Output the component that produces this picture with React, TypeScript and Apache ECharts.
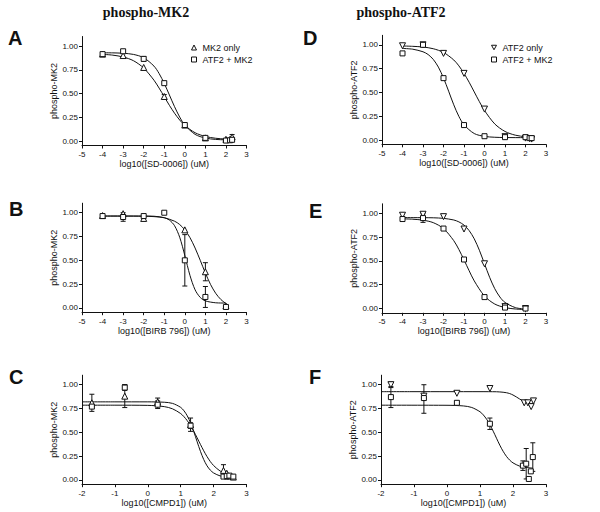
import React, { useEffect, useRef } from "react";
import * as echarts from "echarts";

const FONT = '"Liberation Sans", Arial, sans-serif';
const SERIF = '"Liberation Serif", "Times New Roman", serif';

const Y_TICKS = [0, 0.25, 0.5, 0.75, 1];

// ---------- Panel A (SD-0006, phospho-MK2) ----------
const A_X = [-4, -3, -2, -1, 0, 1, 2, 2.2, 2.3];
const A_MK2_ONLY = [0.915, 0.9, 0.775, 0.47, 0.17, 0.035, 0.02, 0.02, 0.045];
const A_ATF2_MK2 = [0.915, 0.945, 0.865, 0.61, 0.17, 0.035, 0.007, 0.01, 0.015];
const A_CURVE_X = [-4, -3.5, -3, -2.5, -2, -1.5, -1.25, -1, -0.75, -0.5, -0.25, 0, 0.5, 1, 1.5, 2, 2.3];
const A_CURVE_MK2_ONLY = [0.913, 0.904, 0.885, 0.846, 0.769, 0.641, 0.558, 0.468, 0.377, 0.294, 0.223, 0.166, 0.089, 0.05, 0.031, 0.022, 0.019];
const A_CURVE_ATF2_MK2 = [0.929, 0.928, 0.924, 0.912, 0.877, 0.789, 0.711, 0.607, 0.486, 0.363, 0.254, 0.17, 0.072, 0.033, 0.019, 0.014, 0.013];
const A_ERR_MK2_ONLY = [[-1, 0.47, 0.02], [2.3, 0.045, 0.025]];
const A_ERR_ATF2_MK2 = [[-2, 0.865, 0.025]];

// ---------- Panel D (SD-0006, phospho-ATF2) ----------
const D_X = [-4, -3, -2, -1, 0, 1, 2, 2.2, 2.3];
const D_ATF2_ONLY = [0.99, 1.0, 0.91, 0.7, 0.325, 0.035, 0.02, 0.015, 0.01];
const D_ATF2_MK2 = [0.91, 1.0, 0.65, 0.157, 0.04, 0.03, 0.03, 0.02, 0.02];
const D_CURVE_X_ATF2_ONLY = [-4, -3.5, -3, -2.5, -2, -1.5, -1.25, -1, -0.75, -0.5, -0.25, 0, 0.5, 1, 1.5, 2, 2.3];
const D_CURVE_ATF2_ONLY = [0.988, 0.984, 0.977, 0.959, 0.92, 0.841, 0.779, 0.7, 0.607, 0.505, 0.403, 0.31, 0.169, 0.09, 0.051, 0.034, 0.028];
const D_CURVE_X_ATF2_MK2 = [-4, -3.5, -3, -2.75, -2.5, -2.25, -2, -1.75, -1.5, -1.25, -1, -0.5, 0, 0.5, 1, 2, 2.3];
const D_CURVE_ATF2_MK2 = [0.962, 0.954, 0.927, 0.898, 0.847, 0.766, 0.652, 0.513, 0.37, 0.248, 0.16, 0.068, 0.038, 0.029, 0.026, 0.025, 0.025];

// ---------- Panel B (BIRB 796, phospho-MK2) ----------
const B_X_MK2_ONLY = [-4, -3, -2, 0, 1, 2];
const B_MK2_ONLY = [0.97, 0.99, 0.94, 0.82, 0.38, 0.02];
const B_X_ATF2_MK2 = [-4, -3, -2, -1, 0, 1, 2];
const B_ATF2_MK2 = [0.965, 0.955, 0.965, 1.0, 0.5, 0.115, 0.01];
const B_CURVE_X_MK2_ONLY = [-4, -3, -2, -1.5, -1, -0.5, -0.25, 0, 0.25, 0.5, 0.75, 1, 1.25, 1.5, 1.75, 2];
const B_CURVE_MK2_ONLY = [0.965, 0.965, 0.963, 0.959, 0.947, 0.911, 0.876, 0.82, 0.739, 0.629, 0.5, 0.366, 0.247, 0.154, 0.089, 0.046];
const B_CURVE_X_ATF2_MK2 = [-4, -3, -2, -1.5, -1, -0.75, -0.5, -0.25, 0, 0.25, 0.5, 0.75, 1, 1.5, 2];
const B_CURVE_ATF2_MK2 = [0.965, 0.965, 0.965, 0.963, 0.948, 0.923, 0.864, 0.743, 0.551, 0.342, 0.19, 0.11, 0.074, 0.054, 0.051];
const B_ERR_MK2_ONLY = [[1, 0.38, 0.095]];
const B_ERR_ATF2_MK2 = [[-3, 0.955, 0.045], [0, 0.5, 0.27], [1, 0.115, 0.11]];

// ---------- Panel E (BIRB 796, phospho-ATF2) ----------
const E_X = [-4, -3, -2, -1, 0, 1, 2];
const E_ATF2_ONLY = [0.98, 0.99, 0.965, 0.835, 0.47, 0.02, 0.0];
const E_ATF2_MK2 = [0.94, 0.95, 0.84, 0.515, 0.12, 0.01, 0.0];
const E_CURVE_X_ATF2_ONLY = [-4, -3, -2.5, -2, -1.5, -1.25, -1, -0.75, -0.5, -0.25, 0, 0.25, 0.5, 0.75, 1, 1.5, 2];
const E_CURVE_ATF2_ONLY = [0.955, 0.954, 0.953, 0.947, 0.93, 0.91, 0.876, 0.819, 0.732, 0.612, 0.47, 0.328, 0.208, 0.121, 0.064, 0.01, -0.007];
const E_CURVE_X_ATF2_MK2 = [-4, -3.5, -3, -2.5, -2, -1.5, -1.25, -1, -0.75, -0.5, 0, 0.5, 1, 1.5, 2];
const E_CURVE_ATF2_MK2 = [0.942, 0.938, 0.928, 0.902, 0.84, 0.713, 0.62, 0.511, 0.397, 0.29, 0.131, 0.047, 0.01, -0.005, -0.011];
const E_ERR_ATF2_ONLY = [[-4, 0.98, 0.02]];
const E_ERR_ATF2_MK2 = [[-3, 0.95, 0.045], [-2, 0.84, 0.015]];

// ---------- Panel C (CMPD1, phospho-MK2) ----------
const C_X = [-1.7, -0.7, 0.3, 1.3, 2.3, 2.4, 2.48, 2.6];
const C_MK2_ONLY = [0.81, 0.88, 0.82, 0.58, 0.1, 0.07, 0.04, 0.03];
const C_ATF2_MK2 = [0.77, 0.97, 0.79, 0.57, 0.035, 0.04, 0.045, 0.035];
const C_CURVE_X = [-2, -1, 0, 0.5, 0.75, 1, 1.1, 1.2, 1.3, 1.4, 1.5, 1.6, 1.7, 1.8, 1.9, 2, 2.2, 2.4, 2.6];
const C_CURVE_MK2_ONLY = [0.82, 0.82, 0.82, 0.816, 0.804, 0.762, 0.726, 0.673, 0.599, 0.505, 0.401, 0.3, 0.214, 0.148, 0.103, 0.073, 0.042, 0.031, 0.027];
const C_CURVE_ATF2_MK2 = [0.785, 0.785, 0.783, 0.77, 0.747, 0.697, 0.664, 0.622, 0.57, 0.509, 0.442, 0.373, 0.306, 0.245, 0.193, 0.151, 0.093, 0.062, 0.045];
const C_ERR_MK2_ONLY = [[-1.7, 0.81, 0.09], [-0.7, 0.88, 0.12], [0.3, 0.82, 0.04], [1.3, 0.58, 0.07], [2.3, 0.1, 0.06]];
const C_ERR_ATF2_MK2 = [[-0.7, 0.97, 0.03], [0.3, 0.79, 0.04], [1.3, 0.57, 0.03], [2.4, 0.04, 0.03]];

// ---------- Panel F (CMPD1, phospho-ATF2) ----------
const F_X_ATF2_ONLY = [-1.7, -0.7, 0.3, 1.3, 2.34, 2.45, 2.55, 2.62];
const F_ATF2_ONLY = [1.0, 0.88, 0.91, 0.96, 0.81, 0.81, 0.77, 0.83];
const F_X_ATF2_MK2 = [-1.7, -0.7, 0.3, 1.3, 2.3, 2.4, 2.48, 2.54, 2.6];
const F_ATF2_MK2 = [0.87, 0.86, 0.81, 0.59, 0.15, 0.17, 0.01, 0.09, 0.24];
const F_CURVE_X_ATF2_ONLY = [-2, -1, 0, 1, 1.5, 1.7, 1.8, 1.9, 2, 2.1, 2.2, 2.3, 2.4, 2.5, 2.6];
const F_CURVE_ATF2_ONLY = [0.927, 0.927, 0.927, 0.927, 0.926, 0.921, 0.916, 0.907, 0.892, 0.872, 0.85, 0.83, 0.815, 0.806, 0.801];
const F_CURVE_X_ATF2_MK2 = [-2, 0, 0.5, 0.75, 1, 1.1, 1.2, 1.3, 1.4, 1.5, 1.6, 1.7, 1.8, 1.9, 2, 2.2, 2.4, 2.6];
const F_CURVE_ATF2_MK2 = [0.785, 0.784, 0.777, 0.761, 0.716, 0.683, 0.638, 0.58, 0.512, 0.438, 0.365, 0.301, 0.248, 0.208, 0.179, 0.145, 0.131, 0.124];
const F_ERR_ATF2_ONLY = [[-1.7, 1.0, 0.03], [-0.7, 0.85, 0.15]];
const F_ERR_ATF2_MK2 = [[-1.7, 0.87, 0.11], [0.3, 0.81, 0.02], [1.3, 0.59, 0.06], [2.3, 0.15, 0.05], [2.4, 0.17, 0.16], [2.6, 0.24, 0.15]];

// ---------- Labels ----------
const COLUMN_TITLES = ["phospho-MK2", "phospho-ATF2"];
const PANEL_LETTERS = ["A", "D", "B", "E", "C", "F"];
const Y_NAMES = ["phospho-MK2", "phospho-ATF2", "phospho-MK2", "phospho-ATF2", "phospho-MK2", "phospho-ATF2"];
const X_NAMES = [
  "log10([SD-0006]) (uM)",
  "log10([SD-0006]) (uM)",
  "log10([BIRB 796]) (uM)",
  "log10([BIRB 796]) (uM)",
  "log10([CMPD1]) (uM)",
  "log10([CMPD1]) (uM)",
];
const X_MIN = [-5, -5, -5, -5, -2, -2];

// layout (grid order: A, D, B, E, C, F)
const GRIDS = [
  { left: 82, top: 36.5, width: 164.5, height: 109 },
  { left: 382, top: 35.3, width: 164, height: 109 },
  { left: 82, top: 203.2, width: 164.5, height: 109 },
  { left: 382, top: 203.8, width: 164, height: 109 },
  { left: 82, top: 375.2, width: 164.5, height: 109 },
  { left: 381, top: 375.2, width: 165, height: 109 },
];
const LETTER_POS = [
  [8, 37.5],
  [303, 37.5],
  [9, 209],
  [309, 211],
  [9, 377],
  [309, 377],
];

const DOWN_TRI = "path://M0,0L10,0L5,9Z";
const UP_TRI = "triangle";
const SQUARE = "rect";
const MARKER_STYLE = { color: "#fff", borderColor: "#111", borderWidth: 1, opacity: 1 };

const zip = (xs: number[], ys: number[]) => xs.map((x, i) => [x, ys[i]]);

function scatter(name: string, xs: number[], ys: number[], symbol: string, size: number, gi: number) {
  return {
    type: "scatter",
    name,
    xAxisIndex: gi,
    yAxisIndex: gi,
    data: zip(xs, ys),
    symbol,
    symbolSize: size,
    itemStyle: MARKER_STYLE,
    z: 5,
    silent: true,
  };
}

function curve(xs: number[], ys: number[], gi: number) {
  return {
    type: "line",
    xAxisIndex: gi,
    yAxisIndex: gi,
    data: zip(xs, ys),
    smooth: 0.3,
    symbol: "none",
    showSymbol: false,
    lineStyle: { color: "#111", width: 1 },
    z: 2,
    silent: true,
  };
}

function errorBars(rows: number[][], gi: number) {
  return {
    type: "custom",
    xAxisIndex: gi,
    yAxisIndex: gi,
    data: rows,
    encode: { x: 0, y: 1 },
    z: 3,
    silent: true,
    renderItem: (params: any, api: any) => {
      const x = api.value(0);
      const y = api.value(1);
      const e = api.value(2);
      const hi = api.coord([x, y + e]);
      const lo = api.coord([x, y - e]);
      const w = 2.5;
      const st = { stroke: "#111", lineWidth: 1 };
      return {
        type: "group",
        children: [
          { type: "line", shape: { x1: hi[0], y1: hi[1], x2: lo[0], y2: lo[1] }, style: st },
          { type: "line", shape: { x1: hi[0] - w, y1: hi[1], x2: hi[0] + w, y2: hi[1] }, style: st },
          { type: "line", shape: { x1: lo[0] - w, y1: lo[1], x2: lo[0] + w, y2: lo[1] }, style: st },
        ],
      };
    },
  };
}

function buildOption() {
  const SQ = 5;
  const TR = 6;
  const series: any[] = [
    // A (0)
    curve(A_CURVE_X, A_CURVE_MK2_ONLY, 0),
    curve(A_CURVE_X, A_CURVE_ATF2_MK2, 0),
    errorBars(A_ERR_MK2_ONLY, 0),
    errorBars(A_ERR_ATF2_MK2, 0),
    scatter("MK2 only", A_X, A_MK2_ONLY, UP_TRI, TR, 0),
    scatter("ATF2 + MK2", A_X, A_ATF2_MK2, SQUARE, SQ, 0),
    // D (1)
    curve(D_CURVE_X_ATF2_ONLY, D_CURVE_ATF2_ONLY, 1),
    curve(D_CURVE_X_ATF2_MK2, D_CURVE_ATF2_MK2, 1),
    scatter("ATF2 only", D_X, D_ATF2_ONLY, DOWN_TRI, TR, 1),
    scatter("ATF2 + MK2", D_X, D_ATF2_MK2, SQUARE, SQ, 1),
    // B (2)
    curve(B_CURVE_X_MK2_ONLY, B_CURVE_MK2_ONLY, 2),
    curve(B_CURVE_X_ATF2_MK2, B_CURVE_ATF2_MK2, 2),
    errorBars(B_ERR_MK2_ONLY, 2),
    errorBars(B_ERR_ATF2_MK2, 2),
    scatter("MK2 only", B_X_MK2_ONLY, B_MK2_ONLY, UP_TRI, TR, 2),
    scatter("ATF2 + MK2", B_X_ATF2_MK2, B_ATF2_MK2, SQUARE, SQ, 2),
    // E (3)
    curve(E_CURVE_X_ATF2_ONLY, E_CURVE_ATF2_ONLY, 3),
    curve(E_CURVE_X_ATF2_MK2, E_CURVE_ATF2_MK2, 3),
    errorBars(E_ERR_ATF2_ONLY, 3),
    errorBars(E_ERR_ATF2_MK2, 3),
    scatter("ATF2 only", E_X, E_ATF2_ONLY, DOWN_TRI, TR, 3),
    scatter("ATF2 + MK2", E_X, E_ATF2_MK2, SQUARE, SQ, 3),
    // C (4)
    curve(C_CURVE_X, C_CURVE_MK2_ONLY, 4),
    curve(C_CURVE_X, C_CURVE_ATF2_MK2, 4),
    errorBars(C_ERR_MK2_ONLY, 4),
    errorBars(C_ERR_ATF2_MK2, 4),
    scatter("MK2 only", C_X, C_MK2_ONLY, UP_TRI, TR, 4),
    scatter("ATF2 + MK2", C_X, C_ATF2_MK2, SQUARE, SQ, 4),
    // F (5)
    curve(F_CURVE_X_ATF2_ONLY, F_CURVE_ATF2_ONLY, 5),
    curve(F_CURVE_X_ATF2_MK2, F_CURVE_ATF2_MK2, 5),
    errorBars(F_ERR_ATF2_ONLY, 5),
    errorBars(F_ERR_ATF2_MK2, 5),
    scatter("ATF2 only", F_X_ATF2_ONLY, F_ATF2_ONLY, DOWN_TRI, TR, 5),
    scatter("ATF2 + MK2", F_X_ATF2_MK2, F_ATF2_MK2, SQUARE, SQ, 5),
  ];

  const axisLineStyle = { color: "#111", width: 1 };

  const xAxis = GRIDS.map((_, i) => ({
    gridIndex: i,
    type: "value",
    min: X_MIN[i],
    max: 3,
    interval: 1,
    name: X_NAMES[i],
    nameLocation: "middle",
    nameGap: 13,
    nameTextStyle: { fontSize: 9, fontFamily: FONT, color: "#111" },
    axisLine: { show: true, onZero: false, lineStyle: axisLineStyle },
    axisTick: { show: true, length: 3, lineStyle: axisLineStyle },
    axisLabel: { fontSize: 8, fontFamily: FONT, color: "#111", margin: 5, formatter: (v: number) => String(v) },
    splitLine: { show: false },
  }));

  const yAxis = GRIDS.map((_, i) => ({
    gridIndex: i,
    type: "value",
    min: -0.045,
    max: 1.1,
    name: Y_NAMES[i],
    nameLocation: "middle",
    nameRotate: 90,
    nameGap: 24,
    nameTextStyle: { fontSize: 9, fontFamily: FONT, color: "#111" },
    axisLine: { show: true, onZero: false, lineStyle: axisLineStyle },
    axisTick: { show: true, length: 3, lineStyle: axisLineStyle, customValues: Y_TICKS },
    axisLabel: {
      fontSize: 8,
      fontFamily: FONT,
      color: "#111",
      margin: 4,
      customValues: Y_TICKS,
      formatter: (v: number) => v.toFixed(2),
    },
    splitLine: { show: false },
  }));

  const legendCommon = {
    orient: "vertical",
    itemWidth: 5,
    itemHeight: 5,
    itemGap: 3,
    selectedMode: false,
    padding: 0,
    itemStyle: { color: "#fff", borderColor: "#111", borderWidth: 1 },
    textStyle: { fontSize: 9, fontFamily: FONT, color: "#111", padding: [0, 0, 0, 1] },
  };

  const graphic: any[] = [
    {
      type: "text",
      x: 146,
      y: 12,
      style: { text: COLUMN_TITLES[0], font: `bold 14px ${SERIF}`, fill: "#111", align: "center", verticalAlign: "middle" },
    },
    {
      type: "text",
      x: 401,
      y: 12,
      style: { text: COLUMN_TITLES[1], font: `bold 14px ${SERIF}`, fill: "#111", align: "center", verticalAlign: "middle" },
    },
    ...PANEL_LETTERS.map((l, i) => ({
      type: "text",
      x: LETTER_POS[i][0],
      y: LETTER_POS[i][1],
      style: { text: l, font: `bold 20px ${FONT}`, fill: "#111", align: "left", verticalAlign: "middle" },
    })),
  ];

  return {
    animation: false,
    backgroundColor: "#fff",
    grid: GRIDS.map((g) => ({ ...g, containLabel: false })),
    xAxis,
    yAxis,
    legend: [
      { ...legendCommon, data: ["MK2 only", "ATF2 + MK2"], left: 191, top: 43 },
      { ...legendCommon, data: ["ATF2 only", "ATF2 + MK2"], left: 491, top: 43 },
    ],
    graphic,
    series,
  };
}

export default function App() {
  const ref = useRef<HTMLDivElement>(null);
  useEffect(() => {
    document.body.style.margin = "0";
    if (!ref.current) return;
    const chart = echarts.init(ref.current, undefined, { renderer: "svg" });
    chart.setOption(buildOption() as any);
    return () => chart.dispose();
  }, []);
  return <div ref={ref} style={{ width: 600, height: 512 }} />;
}
